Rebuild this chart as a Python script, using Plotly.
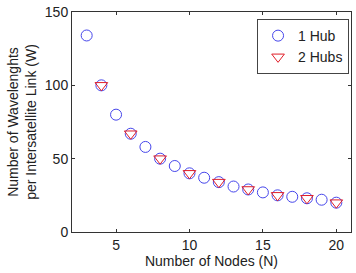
import plotly.graph_objects as go

nodes_1hub = [3, 4, 5, 6, 7, 8, 9, 10, 11, 12, 13, 14, 15, 16, 17, 18, 19, 20]
w_1hub = [134, 100, 80, 67, 58, 50, 45, 40, 37, 34, 31, 29, 27, 25, 24, 23, 22, 20]
nodes_2hubs = [4, 6, 8, 10, 12, 14, 16, 18, 20]
w_2hubs = [100, 67, 50, 40, 34, 29, 25, 23, 20]

font_family = "Liberation Sans, Arial, sans-serif"

fig = go.Figure()
fig.add_trace(go.Scatter(
    x=nodes_1hub, y=w_1hub, mode="markers", name="1 Hub",
    marker=dict(symbol="circle-open", size=11, color="rgb(70,70,235)", line=dict(width=1)),
))
fig.add_trace(go.Scatter(
    x=nodes_2hubs, y=w_2hubs, mode="markers", name="2 Hubs",
    marker=dict(symbol="triangle-down-open", size=11, color="rgb(225,30,40)", line=dict(width=1)),
))

axis_common = dict(
    showline=True, mirror="ticks", linecolor="#333", linewidth=1,
    ticks="inside", ticklen=3, tickcolor="#333", showgrid=False, zeroline=False,
    tickfont=dict(family=font_family, size=14, color="#222"),
    title_font=dict(family=font_family, size=14, color="#222"),
)

fig.update_layout(
    width=356, height=273,
    margin=dict(l=72, r=4, t=10, b=41),
    plot_bgcolor="white", paper_bgcolor="white",
    showlegend=True,
    legend=dict(
        x=0.993, y=0.968, xanchor="right", yanchor="top",
        bordercolor="#444", borderwidth=1, bgcolor="white",
        font=dict(family=font_family, size=14, color="#222"),
        itemwidth=30, tracegroupgap=0,
    ),
    xaxis=dict(range=[2, 21], tickvals=[5, 10, 15, 20],
               title=dict(text="Number of Nodes (N)", standoff=1), **axis_common),
    yaxis=dict(range=[0, 150], tickvals=[0, 50, 100, 150],
               title=dict(text="Number of Wavelenghts<br>per Intersatellite Link (W)", standoff=4),
               **axis_common),
)

fig.write_html("out.html")
